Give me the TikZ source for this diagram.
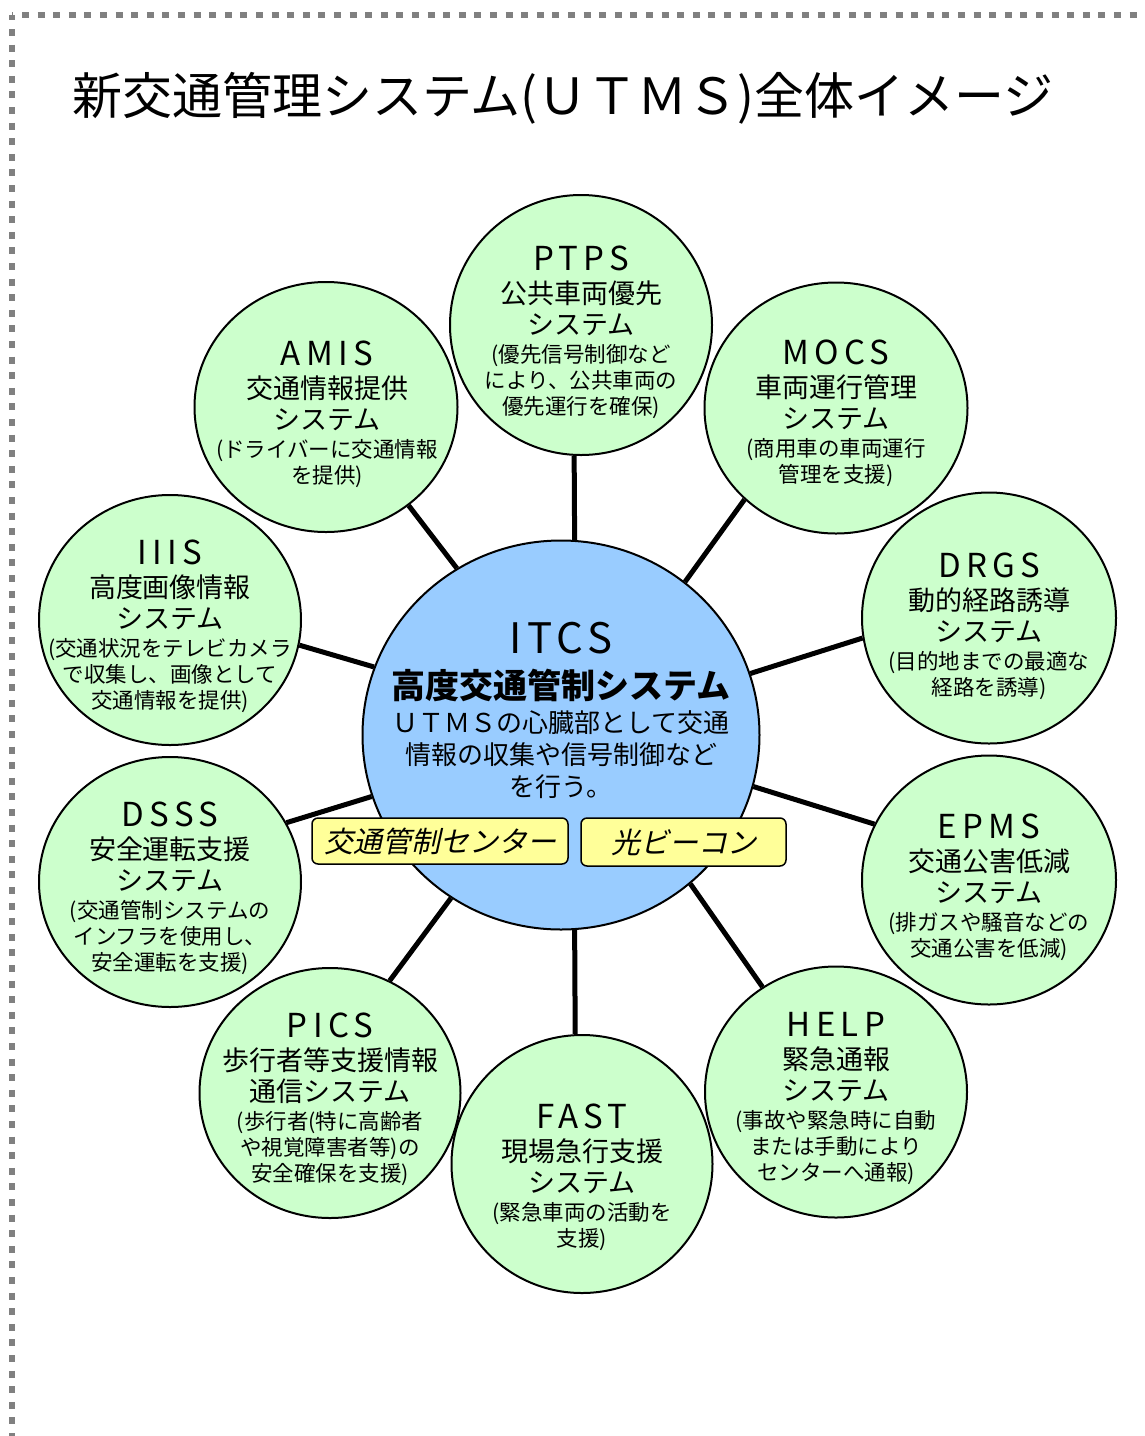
\documentclass[tikz,border=0pt]{standalone}
\usepackage{fontspec}
\setmainfont{Noto Sans CJK JP}
\newfontfamily\jpslant[FakeSlant=0.22]{Noto Sans CJK JP}
\newfontfamily\acrfont[LetterSpace=16]{Noto Sans CJK JP}
\newfontfamily\hubacrfont[LetterSpace=12]{Noto Sans CJK JP}
\usetikzlibrary{shapes.geometric}
\setlength\parindent{0pt}
\lineskiplimit=-1000pt
\definecolor{bubblegreen}{HTML}{CCFFCC}
\definecolor{hubblue}{HTML}{99CCFF}
\definecolor{tagyellow}{HTML}{FFFF99}
\definecolor{dotgray}{HTML}{808080}
\newcommand\bubtext[5]{%
 {\acrfont\fontsize{33}{33}\selectfont\rule{0pt}{30pt}#1\par}%
 {\fontsize{27}{33}\selectfont #2\par}%
 {\fontsize{27}{31}\selectfont #3\par}%
 {\fontsize{21.5}{28}\selectfont #4\par}%
 {\fontsize{21.5}{26}\selectfont #5\par}}
\tikzset{
  bubble/.style={ellipse, draw=black, line width=2pt, fill=bubblegreen, inner sep=0pt},
  hub/.style={ellipse, draw=black, line width=2pt, fill=hubblue, inner sep=0pt},
  btext/.style={anchor=north, inner sep=0pt, text width=300pt, align=center},
  link/.style={line width=5pt, black},
  tag/.style={draw=black, line width=1.5pt, fill=tagyellow, rounded corners=6pt, inner sep=0pt,
    font=\jpslant\fontsize{29}{29}\selectfont},
  dotline/.style={dotgray, line width=6pt, dash pattern=on 7pt off 8.6pt}
}
\begin{document}
\begin{tikzpicture}[x=1pt,y=-1pt]
\useasboundingbox (0,0) rectangle (1144,1436);
% page frame
\draw[dotline, dash phase=5.6pt] (12,15) -- (1144,15);
\draw[dotline, dash phase=1.6pt] (12,15) -- (12,1436);
% title
\node[anchor=base west, inner sep=0pt, font=\fontsize{50}{50}\selectfont] (title) at (72,114)
  {新交通管理システム(ＵＴＭＳ)全体イメージ};
% circles
\node[hub, minimum width=397pt, minimum height=389pt] (itcs) at (561,735) {};
\node[bubble, minimum width=262pt, minimum height=260pt] (ptps) at (581,325) {};
\node[bubble, minimum width=263pt, minimum height=251pt] (mocs) at (836,408) {};
\node[bubble, minimum width=254pt, minimum height=251pt] (drgs) at (989,618) {};
\node[bubble, minimum width=254pt, minimum height=249pt] (epms) at (989,880) {};
\node[bubble, minimum width=262pt, minimum height=251pt] (help) at (836,1092) {};
\node[bubble, minimum width=261pt, minimum height=258pt] (fast) at (582,1164) {};
\node[bubble, minimum width=261pt, minimum height=250pt] (pics) at (330,1093) {};
\node[bubble, minimum width=262pt, minimum height=250pt] (dsss) at (170,882) {};
\node[bubble, minimum width=262pt, minimum height=250pt] (iiis) at (170,620) {};
\node[bubble, minimum width=263pt, minimum height=250pt] (amis) at (326,407) {};
% connectors
\draw[link] (itcs.86.5) -- (ptps.-93);
\draw[link] (itcs.51.4) -- (mocs.-135);
\draw[link] (itcs.18.6) -- (drgs.-171);
\draw[link] (itcs.-15.3) -- (epms.154.5);
\draw[link] (itcs.-49) -- (help.125);
\draw[link] (itcs.-86.5) -- (fast.93.6);
\draw[link] (itcs.-124.3) -- (pics.62.6);
\draw[link] (itcs.-162.5) -- (dsss.27);
\draw[link] (itcs.160) -- (iiis.-11);
\draw[link] (itcs.122.3) -- (amis.-50);
% yellow tags
\node[tag, minimum width=256pt, minimum height=46pt] (center) at (440,841) {交通管制センター};
\node[tag, minimum width=205pt, minimum height=48pt] (beacon) at (683.5,842) {光ビーコン};
% hub text
\node[btext, text width=420pt] (itcs-t) at (561,613) {%
 {\hubacrfont\fontsize{42}{42}\selectfont\rule{0pt}{40pt}ITCS\par}%
 {\bfseries\fontsize{34}{45}\selectfont 高度交通管制システム\par}%
 {\fontsize{26}{34}\selectfont ＵＴＭＳの心臓部として交通\par}%
 {\fontsize{26}{32}\selectfont 情報の収集や信号制御など\\を行う。\par}};
% bubble texts
\node[btext] (ptps-t) at (581,240) {\bubtext{PTPS}{公共車両優先}{システム}{(優先信号制御など}{により、公共車両の\\優先運行を確保)}};
\node[btext] (amis-t) at (327,335) {\bubtext{AMIS}{交通情報提供}{システム}{(ドライバーに交通情報}{を提供)}};
\node[btext] (mocs-t) at (836,334) {\bubtext{MOCS}{車両運行管理}{システム}{(商用車の車両運行}{管理を支援)}};
\node[btext] (iiis-t) at (170,534) {\bubtext{IIIS}{高度画像情報}{システム}{(交通状況をテレビカメラ}{で収集し、画像として\\交通情報を提供)}};
\node[btext] (drgs-t) at (989,547) {\bubtext{DRGS}{動的経路誘導}{システム}{(目的地までの最適な}{経路を誘導)}};
\node[btext] (dsss-t) at (170,796) {\bubtext{DSSS}{安全運転支援}{システム}{(交通管制システムの}{インフラを使用し、\\安全運転を支援)}};
\node[btext] (epms-t) at (989,808) {\bubtext{EPMS}{交通公害低減}{システム}{(排ガスや騒音などの}{交通公害を低減)}};
\node[btext] (pics-t) at (330,1007) {\bubtext{PICS}{歩行者等支援情報}{通信システム}{(歩行者(特に高齢者}{や視覚障害者等)の\\安全確保を支援)}};
\node[btext] (help-t) at (836,1006) {\bubtext{HELP}{緊急通報}{システム}{(事故や緊急時に自動}{または手動により\\センターへ通報)}};
\node[btext] (fast-t) at (582,1098) {\bubtext{FAST}{現場急行支援}{システム}{(緊急車両の活動を}{支援)}};
\end{tikzpicture}
\end{document}
